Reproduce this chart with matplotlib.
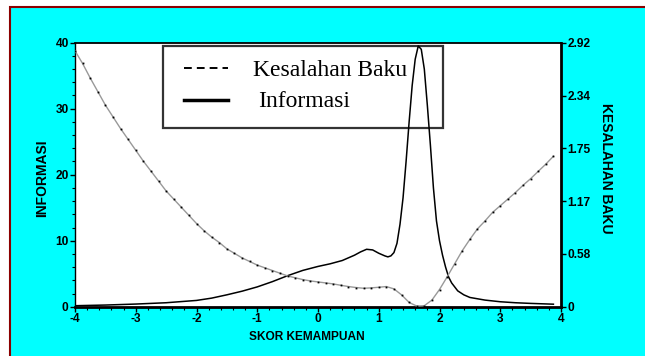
import matplotlib
matplotlib.use('Agg')
import matplotlib.pyplot as plt
from matplotlib import font_manager as fm
from matplotlib.patches import Rectangle
from matplotlib.lines import Line2D
from matplotlib.ticker import MultipleLocator, NullLocator

plt.rcParams['axes.unicode_minus'] = False

# ---------------- data ----------------
info_x = [-4, -3.5, -3, -2.5, -2, -1.75, -1.5, -1.25, -1, -0.75, -0.5, -0.25, 0,
          0.2, 0.4, 0.6, 0.7, 0.8, 0.9, 1.0, 1.1, 1.15, 1.2, 1.25, 1.3, 1.35, 1.4,
          1.45, 1.5, 1.55, 1.6, 1.65, 1.7, 1.75, 1.8, 1.85, 1.9, 1.95, 2.0, 2.05,
          2.1, 2.15, 2.2, 2.3, 2.4, 2.5, 2.75, 3.0, 3.25, 3.5, 3.75, 3.875]
info_y = [0.15, 0.25, 0.4, 0.6, 0.95, 1.3, 1.8, 2.35, 3.0, 3.8, 4.7, 5.5, 6.1,
          6.5, 7.0, 7.8, 8.3, 8.7, 8.6, 8.1, 7.7, 7.55, 7.7, 8.2, 9.6, 12.5, 16.5,
          22.0, 28.0, 33.5, 37.5, 39.5, 39.0, 36.0, 30.5, 24.5, 18.0, 13.0, 10.0, 7.8,
          6.0, 4.5, 3.6, 2.4, 1.8, 1.4, 1.0, 0.75, 0.6, 0.5, 0.42, 0.38]

se_x = [-4.0, -3.875, -3.75, -3.625, -3.5, -3.375, -3.25, -3.125,
        -3.0, -2.875, -2.75, -2.625, -2.5, -2.375, -2.25, -2.125,
        -2.0, -1.875, -1.75, -1.625, -1.5, -1.375, -1.25, -1.125,
        -1.0, -0.875, -0.75, -0.625, -0.5, -0.375, -0.25, -0.125,
        0.0, 0.125, 0.25, 0.375, 0.5, 0.625, 0.75, 0.875,
        1.0, 1.125, 1.25, 1.375, 1.5, 1.625, 1.75, 1.875,
        2.0, 2.125, 2.25, 2.375, 2.5, 2.625, 2.75, 2.875,
        3.0, 3.125, 3.25, 3.375, 3.5, 3.625, 3.75, 3.875]
se_y = [2.83, 2.69, 2.53, 2.38, 2.23, 2.10, 1.97, 1.85,
        1.73, 1.61, 1.50, 1.39, 1.28, 1.19, 1.10, 1.01,
        0.92, 0.84, 0.77, 0.71, 0.64, 0.59, 0.54, 0.50,
        0.46, 0.43, 0.40, 0.37, 0.34, 0.32, 0.30, 0.285,
        0.274, 0.263, 0.252, 0.237, 0.223, 0.212, 0.204, 0.208,
        0.215, 0.223, 0.197, 0.131, 0.047, 0.007, 0.011, 0.073,
        0.19, 0.329, 0.475, 0.62, 0.745, 0.861, 0.949, 1.044,
        1.117, 1.19, 1.263, 1.343, 1.416, 1.497, 1.577, 1.664]

x_ticks = [-4, -3, -2, -1, 0, 1, 2, 3, 4]
x_tick_labels = ['-4', '-3', '-2', '-1', '0', '1', '2', '3', '4']
info_ticks = [0, 10, 20, 30, 40]
info_tick_labels = ['0', '10', '20', '30', '40']
se_ticks = [0, 0.584, 1.168, 1.752, 2.336, 2.92]
se_tick_labels = ['0', '0.58', '1.17', '1.75', '2.34', '2.92']

legend_labels = ['Kesalahan Baku', 'Informasi']
x_label = 'SKOR KEMAMPUAN'
y_label = 'INFORMASI'
y2_label = 'KESALAHAN BAKU'

# ---------------- fonts ----------------
def has_font(name):
    try:
        fm.findfont(fm.FontProperties(family=name), fallback_to_default=False)
        return True
    except Exception:
        return False

narrow = has_font('Liberation Sans Narrow')
SANS_H = 'Liberation Sans Narrow' if narrow else 'Liberation Sans'
tick_fs = 9.5 if narrow else 8.6
xlab_fs = 10 if narrow else 8.6

W, H = 645.0, 356.0
fig = plt.figure(figsize=(W / 100, H / 100), dpi=100, facecolor='white')
fig.add_artist(Rectangle((10 / W, -0.05), 1.1, 1 - 7 / H + 0.05,
                         transform=fig.transFigure, facecolor='#00FFFF',
                         edgecolor='#8B0000', lw=1.5, zorder=-10))

L, R, T, B = 75, 561, 42.7, 306.7
ax = fig.add_axes([L / W, 1 - B / H, (R - L) / W, (B - T) / H])
ax.set_facecolor('white')
ax.plot(info_x, info_y, color='black', lw=1.1, zorder=3, solid_joinstyle='round')
ax.set_xlim(-4, 4)
ax.set_ylim(0, 40)

ax2 = ax.twinx()
ax2.plot(se_x, se_y, color='#999999', lw=1.0, marker='s', ms=1.3,
         mfc='black', mec='black', mew=0, zorder=3)
ax2.set_ylim(0, 2.92)

# ticks
ax.set_xticks(x_ticks)
ax.set_xticklabels(x_tick_labels)
ax.xaxis.set_minor_locator(MultipleLocator(0.2))
ax.set_yticks(info_ticks)
ax.set_yticklabels(info_tick_labels)
ax.yaxis.set_minor_locator(MultipleLocator(2))
ax.tick_params(which='major', direction='out', length=3.5, width=1, pad=1,
               colors='black')
ax.tick_params(which='minor', direction='out', length=2, width=0.8)
ax.tick_params(axis='y', which='both', right=False)
ax.tick_params(axis='x', which='both', top=False)

ax2.set_yticks(se_ticks)
ax2.set_yticklabels(se_tick_labels)
ax2.yaxis.set_minor_locator(NullLocator())
ax2.tick_params(direction='out', length=3.5, width=1, pad=1)

for lab in ax.get_xticklabels() + ax.get_yticklabels() + ax2.get_yticklabels():
    lab.set_fontfamily(SANS_H)
    lab.set_fontweight('bold')
    lab.set_fontsize(tick_fs)

# spines
ax.spines['right'].set_visible(False)
ax.spines['left'].set_linewidth(1.0)
ax.spines['top'].set_linewidth(1.3)
ax.spines['bottom'].set_linewidth(2.0)
for s in ['left', 'top', 'bottom']:
    ax2.spines[s].set_visible(False)
ax2.spines['right'].set_linewidth(2.0)

# legend (manual box)
ax.add_patch(Rectangle((163 / W, 1 - 128 / H), 280 / W, 82 / H,
                       transform=fig.transFigure, facecolor='white',
                       edgecolor='#333333', lw=1.6, zorder=2, clip_on=False))
ax.add_line(Line2D([184 / W, 228 / W], [1 - 68 / H] * 2, transform=fig.transFigure,
                   color='black', lw=1.4, dashes=(4, 2.6), zorder=4, clip_on=False))
ax.add_line(Line2D([184 / W, 228 / W], [1 - 100 / H] * 2, transform=fig.transFigure,
                   color='black', lw=2.5, zorder=4, clip_on=False))
ax.text(253 / W, 1 - 70 / H, legend_labels[0], transform=fig.transFigure,
        family='Liberation Serif', fontsize=17, va='center', ha='left', zorder=4)
ax.text(258 / W, 1 - 101 / H, legend_labels[1], transform=fig.transFigure,
        family='Liberation Serif', fontsize=17, va='center', ha='left', zorder=4)

# axis labels
fig.text(307 / W, 1 - 337 / H, x_label, family=SANS_H, fontweight='bold',
         fontsize=xlab_fs, ha='center', va='center')
fig.text(42 / W, 1 - 178 / H, y_label, family='Liberation Sans', fontweight='bold',
         fontsize=10, rotation=90, ha='center', va='center')
fig.text(606 / W, 1 - 168 / H, y2_label, family='Liberation Sans', fontweight='bold',
         fontsize=10, rotation=270, ha='center', va='center')

fig.savefig('out.png', dpi=100, facecolor=fig.get_facecolor())
